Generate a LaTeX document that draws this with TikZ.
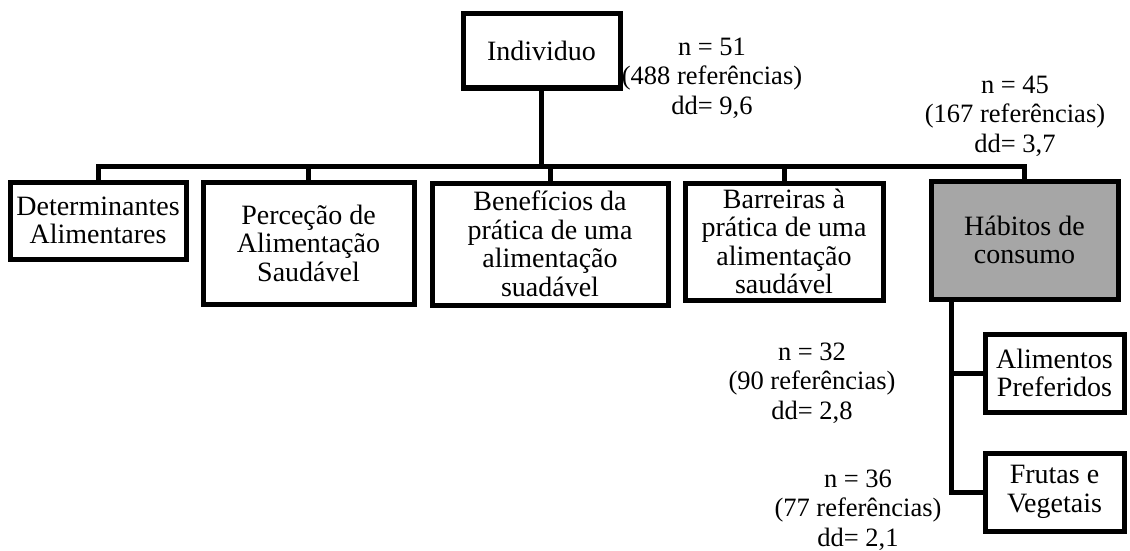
\documentclass[tikz,border=0pt]{standalone}
\usepackage{fontspec}
\setmainfont{Liberation Serif}
\begin{document}
\begin{tikzpicture}[x=1pt,y=-1pt,
  box/.style={draw=black,line width=5pt,fill=white,rectangle,align=center,inner sep=0pt,
    font=\fontsize{28}{28.5}\selectfont},
  shaded/.style={box,fill=gray!70},
  stat/.style={align=center,inner sep=0pt,font=\fontsize{26.5}{29.5}\selectfont},
  conn/.style={line width=5pt,line cap=rect}]
\useasboundingbox (0,0) rectangle (1130,551);
\node[box,minimum width=157pt,minimum height=74pt] (ind) at (541.5,51) {Individuo};
\node[box,minimum width=176pt,minimum height=77pt] (det) at (98,220.5) {Determinantes\\Alimentares};
\node[box,minimum width=211pt,minimum height=122pt] (per) at (308.5,243) {Perceção de\\Alimentação\\Saudável};
\node[box,minimum width=236pt,minimum height=122pt] (ben) at (550,244) {Benefícios da\\prática de uma\\alimentação\\suadável};
\node[box,minimum width=198pt,minimum height=117pt] (bar) at (784,241.5) {Barreiras à\\prática de uma\\alimentação\\saudável};
\node[shaded,minimum width=187pt,minimum height=118pt] (hab) at (1024.5,240) {Hábitos de\\consumo};
\node[box,minimum width=139pt,minimum height=78pt] (ali) at (1054.5,373) {Alimentos\\Preferidos};
\node[box,minimum width=139pt,minimum height=78pt] (fru) at (1054.5,492) {Frutas e\\Vegetais};
\coordinate (bus) at (0,166);
\coordinate (hx) at (951,0);
\draw[conn] (ind.south) -- (ind.south |- bus);
\draw[conn] (det.north |- bus) -- (hab.north |- bus);
\draw[conn] (det.north) -- (det.north |- bus);
\draw[conn] (per.north) -- (per.north |- bus);
\draw[conn] (ben.north) -- (ben.north |- bus);
\draw[conn] (bar.north) -- (bar.north |- bus);
\draw[conn] (hab.north) -- (hab.north |- bus);
\draw[conn] (hab.south -| hx) -- (hx |- fru.west) -- (fru.west);
\draw[conn] (hx |- ali.west) -- (ali.west);
\node[stat] (s1) at (712,78) {n = 51\\(488 referências)\\dd= 9,6};
\node[stat] (s2) at (1015,116) {n = 45\\(167 referências)\\dd= 3,7};
\node[stat] (s3) at (812,383) {n = 32\\(90 referências)\\dd= 2,8};
\node[stat] (s4) at (858,510) {n = 36\\(77 referências)\\dd= 2,1};
\end{tikzpicture}
\end{document}
